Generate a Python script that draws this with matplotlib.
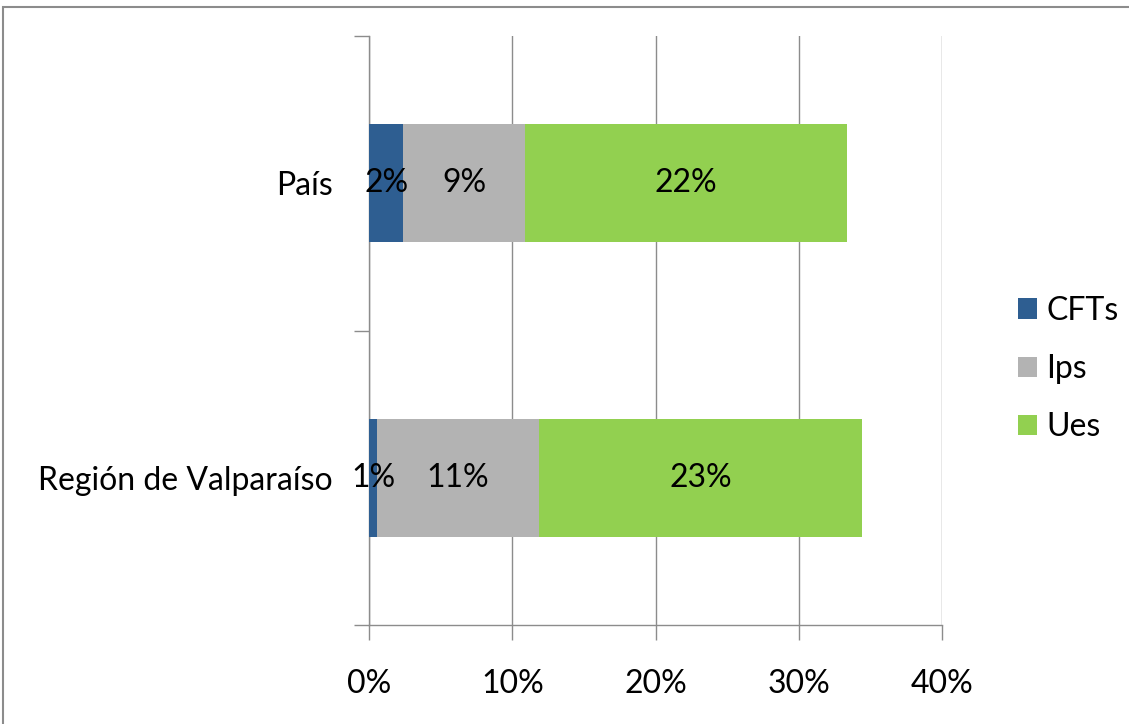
import matplotlib.pyplot as plt
from matplotlib.patches import Rectangle

plt.rcParams['font.family'] = ['Lato', 'DejaVu Sans']

# data (percent)
categories = ['Región de Valparaíso', 'País']
series_names = ['CFTs', 'Ips', 'Ues']
cfts = [0.55, 2.4]
ips = [11.3, 8.5]
ues = [22.6, 22.5]
label_text = [['1%', '11%', '23%'], ['2%', '9%', '22%']]

colors = ['#2E5E91', '#B3B3B3', '#92D050']
fs = 23

fig = plt.figure(figsize=(11.29, 7.24), dpi=100)
ax = fig.add_axes([369 / 1129, 1 - 625 / 724, 573 / 1129, 589 / 724])

# outer chart frame (cut off on the right and bottom like the reference)
fig.patches.append(Rectangle((3 / 1129, -0.1), 1.2, (717 / 724) + 0.1,
                             transform=fig.transFigure, fill=False,
                             edgecolor='#8C8C8C', linewidth=1.5))

ypos = [0.5, 1.5]
left = [0, 0]
for i, vals in enumerate([cfts, ips, ues]):
    ax.barh(ypos, vals, left=left, height=0.4, color=colors[i],
            label=series_names[i], zorder=3)
    for j in range(len(ypos)):
        ax.text(left[j] + vals[j] / 2, ypos[j], label_text[j][i],
                ha='center', va='center', fontsize=fs, color='black', zorder=4)
    left = [l + v for l, v in zip(left, vals)]

ax.set_xlim(0, 40)
ax.set_ylim(0, 2)
ax.set_xticks([0, 10, 20, 30, 40])
ax.set_xticklabels(['0%', '10%', '20%', '30%', '40%'], fontsize=fs)
ax.xaxis.grid(True, color='#8C8C8C', linewidth=1)
ax.set_axisbelow(True)

# category ticks at boundaries, labels in the middle
ax.set_yticks([0, 1, 2])
ax.set_yticklabels([])
ax.set_yticks(ypos, minor=True)
ax.set_yticklabels(categories, minor=True, fontsize=fs)
ax.tick_params(axis='y', which='minor', length=0, pad=26)
ax.tick_params(axis='y', which='major', length=11, color='#8C8C8C', width=1)
ax.tick_params(axis='x', length=11, color='#8C8C8C', width=1, pad=21)

for s in ['top', 'right']:
    ax.spines[s].set_visible(False)
for s in ['left', 'bottom']:
    ax.spines[s].set_color('#8C8C8C')
    ax.spines[s].set_linewidth(1)

ax.legend(loc='center left', bbox_to_anchor=((989 - 369) / 573, 1 - (369 - 36) / 589),
          frameon=False, fontsize=fs, handlelength=0.6, handleheight=0.6,
          labelspacing=0.88, handletextpad=0.3)

fig.savefig('out.png', dpi=100)
